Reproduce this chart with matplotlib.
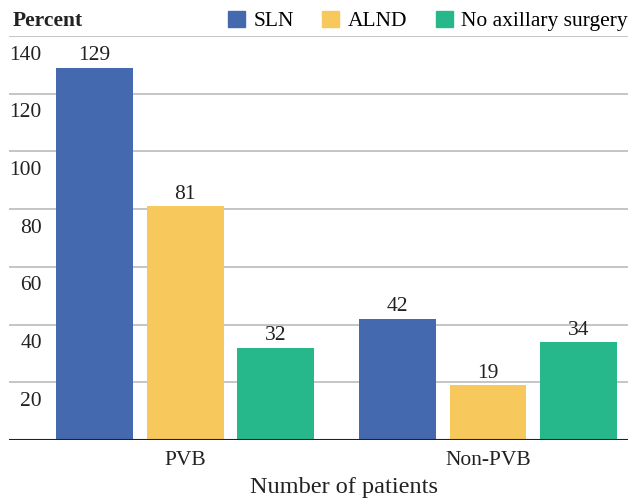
import matplotlib
matplotlib.use("Agg")
import matplotlib.pyplot as plt
import matplotlib.transforms as mtransforms
from matplotlib.patches import Patch
import numpy as np

# Data
groups = ["PVB", "Non-PVB"]
series_names = ["SLN", "ALND", "No axillary surgery"]
sln = [129, 42]
alnd = [81, 19]
no_surgery = [32, 34]
yticks = [20, 40, 60, 80, 100, 120, 140]

colors = ["#4569AF", "#F7C85C", "#26B88A"]
fs = 15.5

plt.rcParams["font.family"] = ["Liberation Serif", "DejaVu Serif"]
plt.rcParams["font.size"] = fs

fig = plt.figure(figsize=(6.29, 4.98), dpi=100)
ax = fig.add_axes([9 / 629, 58 / 498, 619 / 629, 404 / 498])

x = np.arange(len(groups))
width = 0.254
offsets = [-0.30, 0.0, 0.30]

for vals, off, col in zip([sln, alnd, no_surgery], offsets, colors):
    bars = ax.bar(x + off, vals, width, color=col, zorder=3)
    for b, v in zip(bars, vals):
        ax.text(b.get_x() + b.get_width() / 2, v + 0.8, str(v),
                ha="center", va="bottom", fontsize=fs, color="#222222")

ax.set_ylim(0, 140)
ax.set_xlim(-0.581, 1.462)

# gridlines
for t in yticks:
    ax.axhline(t, color="#BBBBBB", lw=1.2, zorder=1)
ax.axhline(0, color="#222222", lw=1.5, zorder=4)

# y labels sit below their gridlines
shift = mtransforms.offset_copy(ax.get_yaxis_transform(), fig=fig, y=-19, units="dots")
for t in yticks:
    ax.text(0.053, t, str(t), transform=shift, ha="right", va="center",
            fontsize=fs, color="#222222")

ax.set_yticks([])
ax.set_xticks(x)
ax.set_xticklabels(groups, fontsize=fs, color="#222222")
ax.tick_params(axis="x", length=0, pad=8)
for s in ax.spines.values():
    s.set_visible(False)

fig.text(344 / 629, 1 - 487 / 498, "Number of patients", ha="center", va="center",
         fontsize=17.5, color="#222222")
fig.text(13 / 629, 1 - 21 / 498, "Percent", ha="left", va="center",
         fontsize=fs, fontweight="bold", color="#222222")

handles = [Patch(color=c, label=n) for c, n in zip(colors, series_names)]
fig.legend(handles=handles, loc="center right", bbox_to_anchor=(628 / 629, 1 - 21 / 498),
           ncol=3, frameon=False, fontsize=fs, handlelength=0.8, handleheight=0.8,
           handletextpad=0.4, columnspacing=1.3, borderpad=0, borderaxespad=0)

fig.savefig("out.png", dpi=100)
